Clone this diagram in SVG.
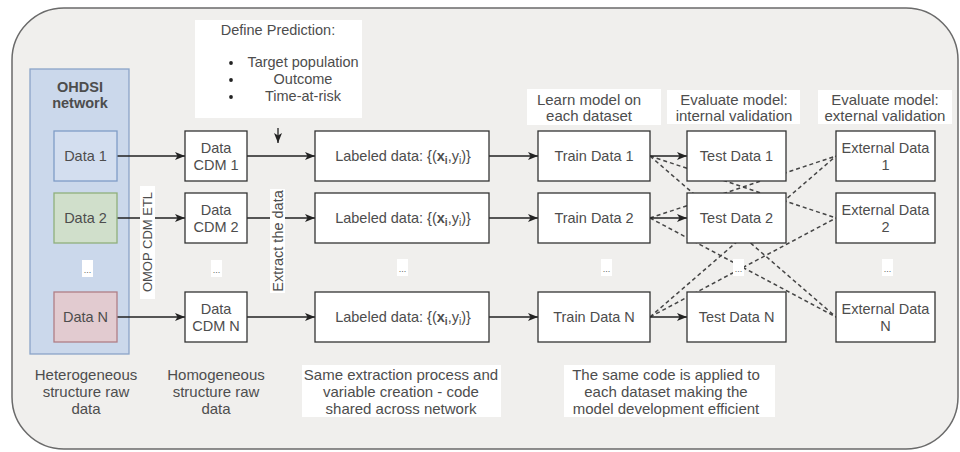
<svg xmlns="http://www.w3.org/2000/svg" width="960" height="452" viewBox="0 0 960 452">
<style>
text{font-family:"Liberation Sans",Arial,sans-serif;fill:#4d4d4d;}
.t{font-size:14.5px;text-anchor:middle;}
.l{font-size:15px;text-anchor:middle;}
.box{fill:#fff;stroke:#333;stroke-width:1.3;}
.bg{fill:#fff;stroke:none;}
.arr{stroke:#222;stroke-width:1.3;fill:none;marker-end:url(#ah);}
.dash{stroke:#454545;stroke-width:1.5;fill:none;stroke-dasharray:4 3;}
.dots{font-size:9px;text-anchor:middle;fill:#666;}
</style>
<defs>
<marker id="ah" markerWidth="12" markerHeight="10" refX="10" refY="5" orient="auto" markerUnits="userSpaceOnUse">
<path d="M0,1 L10,5 L0,9 L2.5,5 z" fill="#222"/>
</marker>
</defs>
<rect id="frame" x="12" y="8" width="946" height="441" rx="52" ry="52" fill="#f0efed" stroke="#6a6a6a" stroke-width="1.5"/>
<g id="ohdsi-network">
<rect x="30" y="69" width="99" height="285" fill="#cbd8eb" stroke="#8aa4c8" stroke-width="1.3"/>
<text class="t" x="80" y="92" font-weight="bold">OHDSI</text>
<text class="t" x="80" y="108" font-weight="bold">network</text>
</g>
<g id="connectors">
<line class="dash" x1="650" y1="156" x2="836" y2="218"/>
<line class="dash" x1="650" y1="156" x2="836" y2="317"/>
<line class="dash" x1="650" y1="218" x2="836" y2="156"/>
<line class="dash" x1="650" y1="218" x2="836" y2="317"/>
<line class="dash" x1="650" y1="317" x2="836" y2="156"/>
<line class="dash" x1="650" y1="317" x2="836" y2="218"/>
<line class="arr" x1="117" y1="156" x2="185" y2="156"/>
<line class="arr" x1="117" y1="218" x2="185" y2="218"/>
<line class="arr" x1="117" y1="317" x2="185" y2="317"/>
<line class="arr" x1="247" y1="156" x2="315" y2="156"/>
<line class="arr" x1="247" y1="218" x2="315" y2="218"/>
<line class="arr" x1="247" y1="317" x2="315" y2="317"/>
<line class="arr" x1="489" y1="156" x2="538" y2="156"/>
<line class="arr" x1="489" y1="218" x2="538" y2="218"/>
<line class="arr" x1="489" y1="317" x2="538" y2="317"/>
<line class="arr" x1="650" y1="156" x2="687" y2="156"/>
<line class="arr" x1="650" y1="218" x2="687" y2="218"/>
<line class="arr" x1="650" y1="317" x2="687" y2="317"/>
<line class="arr" x1="278" y1="128" x2="278" y2="143"/>
</g>
<g id="data-1"><rect x="54" y="131" width="63" height="50" fill="#d3deef" stroke="#7f9cc6" stroke-width="1.3"/><text class="t" x="85.5" y="161">Data 1</text></g>
<g id="data-2"><rect x="54" y="193" width="63" height="50" fill="#d0dfcb" stroke="#8fb07c" stroke-width="1.3"/><text class="t" x="85.5" y="223">Data 2</text></g>
<g id="data-dots"><rect class="bg" x="82" y="260" width="11" height="17"/><text class="dots" x="87.5" y="273">...</text></g>
<g id="data-n"><rect x="54" y="292" width="63" height="50" fill="#e2cbd0" stroke="#b07e86" stroke-width="1.3"/><text class="t" x="85.5" y="322">Data N</text></g>

<g id="cdm-1"><rect class="box" x="185" y="131" width="62" height="50"/><text class="t" x="216" y="153">Data</text><text class="t" x="216" y="170">CDM 1</text></g>
<g id="cdm-2"><rect class="box" x="185" y="193" width="62" height="50"/><text class="t" x="216" y="215">Data</text><text class="t" x="216" y="232">CDM 2</text></g>
<g id="cdm-dots"><rect class="bg" x="211" y="260" width="11" height="17"/><text class="dots" x="216.5" y="273">...</text></g>
<g id="cdm-n"><rect class="box" x="185" y="292" width="62" height="50"/><text class="t" x="216" y="314">Data</text><text class="t" x="216" y="331">CDM N</text></g>

<g id="omop-label"><rect class="bg" x="140" y="186" width="15" height="113"/><text font-size="13" text-anchor="middle" transform="translate(152,242) rotate(-90)">OMOP CDM ETL</text></g>
<g id="extract-label"><rect class="bg" x="270" y="189" width="15" height="104"/><text font-size="14.5" text-anchor="middle" transform="translate(283,241) rotate(-90)">Extract the data</text></g>

<g id="define-prediction">
<rect class="bg" x="195" y="20" width="167" height="98"/>
<text class="t" x="278" y="35">Define Prediction:</text>
<circle cx="231" cy="63" r="1.9" fill="#222"/>
<circle cx="231" cy="80" r="1.9" fill="#222"/>
<circle cx="231" cy="97" r="1.9" fill="#222"/>
<text class="t" x="303" y="67">Target population</text>
<text class="t" x="303" y="84">Outcome</text>
<text class="t" x="303" y="101">Time-at-risk</text>
</g>

<g id="labeled-1"><rect class="box" x="315" y="131" width="174" height="50"/><text class="t" x="403" y="161">Labeled data: {(<tspan font-weight="bold">x</tspan><tspan font-weight="bold" font-size="10" dy="3">i</tspan><tspan dy="-3">,y</tspan><tspan font-size="10" dy="3">i</tspan><tspan dy="-3">)}</tspan></text></g>
<g id="labeled-2"><rect class="box" x="315" y="193" width="174" height="50"/><text class="t" x="403" y="223">Labeled data: {(<tspan font-weight="bold">x</tspan><tspan font-weight="bold" font-size="10" dy="3">i</tspan><tspan dy="-3">,y</tspan><tspan font-size="10" dy="3">i</tspan><tspan dy="-3">)}</tspan></text></g>
<g id="labeled-dots"><rect class="bg" x="397" y="259" width="11" height="17"/><text class="dots" x="402.5" y="272">...</text></g>
<g id="labeled-n"><rect class="box" x="315" y="292" width="174" height="50"/><text class="t" x="403" y="322">Labeled data: {(<tspan font-weight="bold">x</tspan><tspan font-weight="bold" font-size="10" dy="3">i</tspan><tspan dy="-3">,y</tspan><tspan font-size="10" dy="3">i</tspan><tspan dy="-3">)}</tspan></text></g>

<g id="learn-label"><rect class="bg" x="527" y="89" width="134" height="36"/><text class="l" x="589" y="105">Learn model on</text><text class="l" x="589" y="121">each dataset</text></g>
<g id="train-1"><rect class="box" x="538" y="131" width="112" height="50"/><text class="t" x="594" y="161">Train Data 1</text></g>
<g id="train-2"><rect class="box" x="538" y="193" width="112" height="50"/><text class="t" x="594" y="223">Train Data 2</text></g>
<g id="train-dots"><rect class="bg" x="601" y="259" width="11" height="17"/><text class="dots" x="606.5" y="272">...</text></g>
<g id="train-n"><rect class="box" x="538" y="292" width="112" height="50"/><text class="t" x="594" y="322">Train Data N</text></g>

<g id="internal-label"><rect class="bg" x="667" y="90" width="133" height="34"/><text class="l" x="734" y="105">Evaluate model:</text><text class="l" x="734" y="121">internal validation</text></g>
<g id="test-1"><rect class="box" x="687" y="131" width="99" height="50"/><text class="t" x="736.5" y="161">Test Data 1</text></g>
<g id="test-2"><rect class="box" x="687" y="193" width="99" height="50"/><text class="t" x="736.5" y="223">Test Data 2</text></g>
<g id="test-dots"><rect class="bg" x="733" y="259" width="11" height="17"/><text class="dots" x="738.5" y="272">...</text></g>
<g id="test-n"><rect class="box" x="687" y="292" width="99" height="50"/><text class="t" x="736.5" y="322">Test Data N</text></g>

<g id="external-label"><rect class="bg" x="818" y="90" width="134" height="34"/><text class="l" x="885" y="105">Evaluate model:</text><text class="l" x="885" y="121">external validation</text></g>
<g id="ext-1"><rect class="box" x="836" y="131" width="99" height="50"/><text class="t" x="885.5" y="153">External Data</text><text class="t" x="885.5" y="170">1</text></g>
<g id="ext-2"><rect class="box" x="836" y="193" width="99" height="50"/><text class="t" x="885.5" y="215">External Data</text><text class="t" x="885.5" y="232">2</text></g>
<g id="ext-dots"><rect class="bg" x="882" y="259" width="11" height="17"/><text class="dots" x="887.5" y="272">...</text></g>
<g id="ext-n"><rect class="box" x="836" y="292" width="99" height="50"/><text class="t" x="885.5" y="314">External Data</text><text class="t" x="885.5" y="331">N</text></g>

<g id="hetero-label"><text class="l" x="86" y="380">Heterogeneous</text><text class="l" x="86" y="397">structure raw</text><text class="l" x="86" y="414">data</text></g>
<g id="homo-label"><text class="l" x="216" y="380">Homogeneous</text><text class="l" x="216" y="397">structure raw</text><text class="l" x="216" y="414">data</text></g>
<g id="extraction-label"><rect class="bg" x="302" y="365" width="199" height="52"/><text class="l" x="401" y="380">Same extraction process and</text><text class="l" x="401" y="397">variable creation - code</text><text class="l" x="401" y="414">shared across network</text></g>
<g id="code-label"><rect class="bg" x="564" y="365" width="211" height="52"/><text class="l" x="666" y="380">The same code is applied to</text><text class="l" x="666" y="397">each dataset making the</text><text class="l" x="666" y="414">model development efficient</text></g>
</svg>
